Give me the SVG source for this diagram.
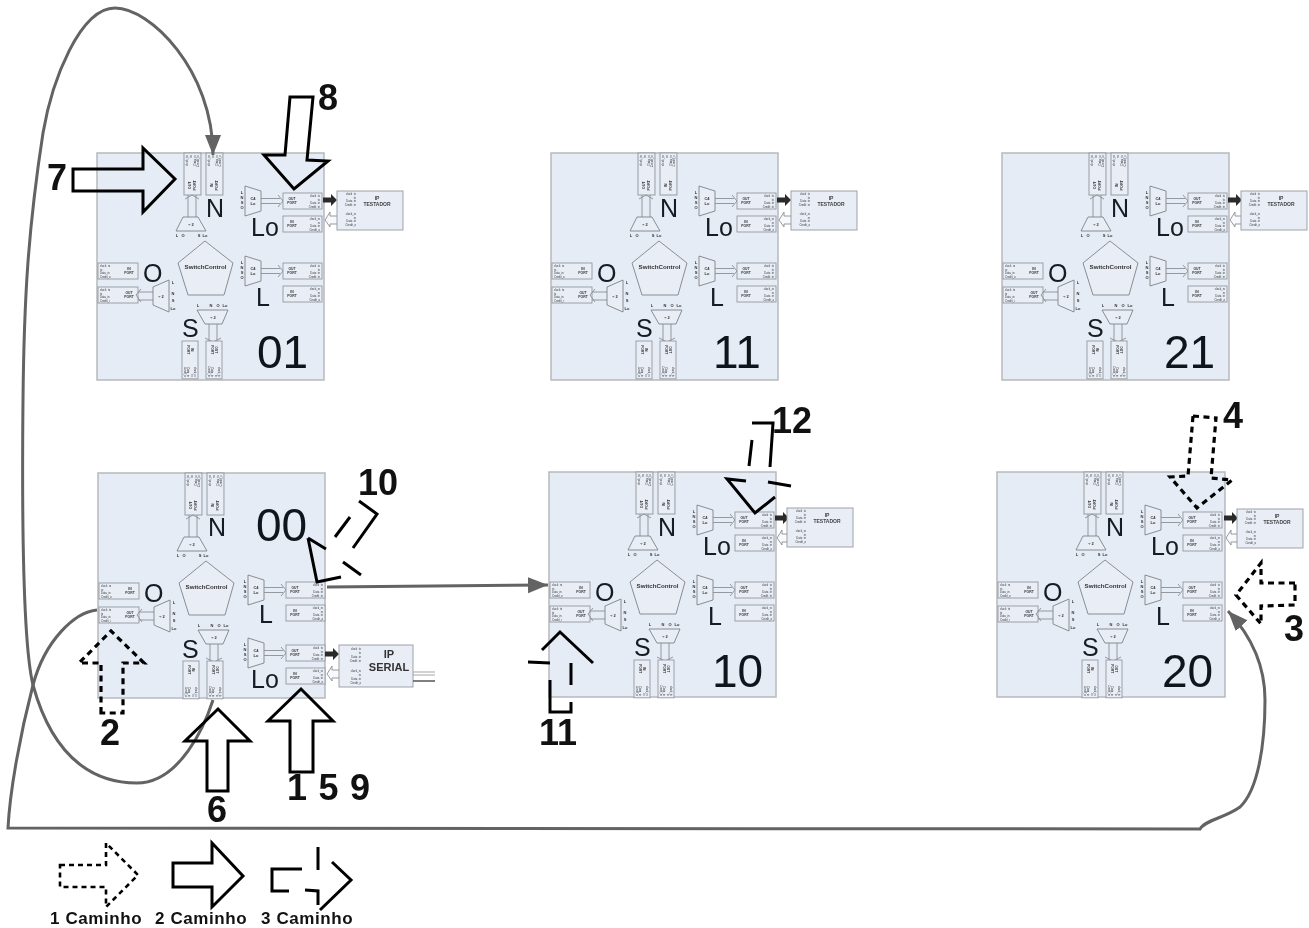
<svg xmlns="http://www.w3.org/2000/svg" width="1309" height="928" viewBox="0 0 1309 928">
<style>
.bg{fill:#fff}
.soft{filter:url(#soft)}
.tile{fill:#e5ecf6;stroke:#b6b9bc;stroke-width:1.5}
.box{fill:#e9eef6;stroke:#94999e;stroke-width:.9}
.mux{fill:#e9eef6;stroke:#7d8288;stroke-width:.9}
.pent{fill:#e9eef6;stroke:#8a8e93;stroke-width:1}
.lnk{fill:none;stroke:#8b8f94;stroke-width:.9}
text{font-family:"Liberation Sans",Arial,sans-serif}
.t3{font-size:2.8px;fill:#333;text-anchor:end}
.t3l{font-size:2.8px;fill:#333}
.pn{font-size:3.4px;font-weight:700;fill:#333;text-anchor:middle}
.sw{font-size:6.2px;font-weight:700;fill:#333;text-anchor:middle}
.mt{font-size:4px;font-weight:700;fill:#333;text-anchor:middle}
.lb{font-size:25px;fill:#151a20}
.num{font-size:46px;fill:#11151a}
.ipt{font-size:5px;font-weight:700;fill:#444;text-anchor:middle}
.ips{font-size:11px;font-weight:700;fill:#333;text-anchor:middle}
.big{font-size:36px;font-weight:700;fill:#111}
.leg{font-size:17px;font-weight:700;fill:#111;letter-spacing:.6px}
.wire{fill:none;stroke:#636363;stroke-width:3}
.wa{fill:none;stroke:#636363;stroke-width:3;marker-end:url(#tip)}
.s{fill:none;stroke:#000;stroke-width:3;stroke-linejoin:miter}
.d{fill:none;stroke:#000;stroke-width:3.2;stroke-dasharray:6 4.5}
.d2{fill:none;stroke:#000;stroke-width:2.6;stroke-dasharray:5 4}
</style>
<defs>
<filter id="soft" x="-5%" y="-5%" width="110%" height="110%"><feGaussianBlur stdDeviation="0.45"/></filter>
<marker id="tip" markerUnits="userSpaceOnUse" markerWidth="22" markerHeight="18" refX="20" refY="9" orient="auto"><path d="M0,1 L20,9 L0,17 Z" fill="#636363"/></marker>
<g id="port-out">
<rect class="box" width="39" height="16"/>
<text class="pn" x="9" y="7">OUT</text><text class="pn" x="9" y="11">PORT</text>
<text class="t3" x="37" y="4">clock_tx</text><text class="t3" x="37" y="7.5">tx</text><text class="t3" x="37" y="11">Data_in</text><text class="t3" x="37" y="14.5">Credit_in</text>
</g>
<g id="port-in">
<rect class="box" width="39" height="16"/>
<text class="pn" x="9" y="7">IN</text><text class="pn" x="9" y="11">PORT</text>
<text class="t3" x="37" y="4">clock_rx</text><text class="t3" x="37" y="7.5">rx</text><text class="t3" x="37" y="11">Data_in</text><text class="t3" x="37" y="14.5">Credit_o</text>
</g>
<g id="west-in">
<rect class="box" width="40" height="16"/>
<text class="pn" x="31" y="7">IN</text><text class="pn" x="31" y="11">PORT</text>
<text class="t3l" x="2" y="4">clock_rx</text><text class="t3l" x="2" y="7.5">rx</text><text class="t3l" x="2" y="11">Data_in</text><text class="t3l" x="2" y="14.5">Credit_o</text>
</g>
<g id="west-out">
<rect class="box" width="40" height="16"/>
<text class="pn" x="31" y="7">OUT</text><text class="pn" x="31" y="11">PORT</text>
<text class="t3l" x="2" y="4">clock_tx</text><text class="t3l" x="2" y="7.5">tx</text><text class="t3l" x="2" y="11">Data_in</text><text class="t3l" x="2" y="14.5">Credit_i</text>
</g>
<g id="east-block">
<path class="mux" d="M0,0 L16,5 L16,25 L0,30 Z"/>
<text class="mt" x="8" y="14">C4</text><text class="mt" x="8" y="19">Lo</text>
<text class="mt" x="-3" y="8">L</text><text class="mt" x="-3" y="13">N</text><text class="mt" x="-3" y="18">S</text><text class="mt" x="-3" y="23">O</text>
<path class="lnk" d="M16,12.5 H35 M16,17.5 H35 M33,9 L38,15 L33,21"/>
<use href="#port-out" x="38" y="7"/>
<use href="#port-in" x="38" y="30"/>
</g>
<g id="core">
<path class="pent" d="M108,88 L136,110 L127,142 L91,142 L81,110 Z"/>
<text class="sw" x="108.500" y="116">SwitchControl</text>
<use href="#port-out" transform="translate(87,42) rotate(-90) scale(1.077,1.06)"/>
<use href="#port-in" transform="translate(109,42) rotate(-90) scale(1.077,1.06)"/>
<path class="lnk" d="M91,42 V64 M99,42 V64 M88,46 L95,42 L102,46"/>
<path class="mux" d="M86,64 L101,64 L109,78 L79,78 Z"/>
<text class="mt" x="94" y="73">÷ 2</text>
<text class="mt" x="80" y="84">L</text><text class="mt" x="86" y="84">O</text><text class="mt" x="102" y="84">S</text><text class="mt" x="108" y="84">Lo</text>
<use href="#west-in" x="1" y="110"/>
<use href="#west-out" x="1" y="134"/>
<path class="lnk" d="M41,139 H57 M41,147 H57 M44,136 L39,142 L44,149"/>
<path class="mux" d="M56,134 L72,127 L72,159 L56,152 Z"/>
<text class="mt" x="64" y="145">÷ 2</text>
<text class="mt" x="76" y="131">L</text><text class="mt" x="76" y="142">N</text><text class="mt" x="76" y="149">S</text><text class="mt" x="76" y="157">Lo</text>
<path class="mux" d="M100,157 L131,157 L125,171 L108,171 Z"/>
<text class="mt" x="116" y="166">÷ 2</text>
<text class="mt" x="101" y="154">L</text><text class="mt" x="114" y="154">N</text><text class="mt" x="121" y="154">O</text><text class="mt" x="128" y="154">Lo</text>
<path class="lnk" d="M112,171 V189 M120,171 V189 M108,185 L116,189 L124,185"/>
<use href="#port-in" transform="translate(101,188) rotate(90) scale(.97,1)"/>
<use href="#port-out" transform="translate(125,188) rotate(90) scale(.97,1)"/>
</g>
<g id="links-right">
<path d="M0,6.500 H8 V3 L14,9 L8,15 V11.500 H0 Z" fill="#2c2c2c"/>
<path d="M14,25 H7 V21 L2,29 L7,36 V33 H14" fill="#f7f9fc" stroke="#8b8f94" stroke-width=".9"/>
</g>
<g id="ip-testador">
<rect class="box" width="66" height="39"/>
<text class="ipt" x="40" y="9">IP</text><text class="ipt" x="40" y="15">TESTADOR</text>
<text class="t3" x="19" y="4">clock_tx</text><text class="t3" x="19" y="7.500">tx</text><text class="t3" x="19" y="11">Data_in</text><text class="t3" x="19" y="14.500">Credit_in</text>
<text class="t3" x="19" y="24">clock_rx</text><text class="t3" x="19" y="27.500">rx</text><text class="t3" x="19" y="31">Data_in</text><text class="t3" x="19" y="34.500">Credit_o</text>
</g>
</defs>
<rect class="bg" width="1309" height="928"/>

<g id="tile-01" class="soft" transform="translate(97,153)">
<rect class="tile" width="227" height="227"/><use href="#core"/>
<use href="#east-block" x="148" y="33"/><use href="#east-block" x="148" y="103"/>
<use href="#links-right" x="226" y="38"/><use href="#ip-testador" x="240" y="38"/>
<text class="lb" x="109" y="64">N</text><text class="lb" x="154" y="83">Lo</text><text class="lb" x="46" y="129">O</text><text class="lb" x="159" y="153">L</text><text class="lb" x="85" y="184">S</text><text class="num" x="160" y="215">01</text>
</g>
<g id="tile-11" class="soft" transform="translate(551,153)">
<rect class="tile" width="227" height="227"/><use href="#core"/>
<use href="#east-block" x="148" y="33"/><use href="#east-block" x="148" y="103"/>
<use href="#links-right" x="226" y="38"/><use href="#ip-testador" x="240" y="38"/>
<text class="lb" x="109" y="64">N</text><text class="lb" x="154" y="83">Lo</text><text class="lb" x="46" y="129">O</text><text class="lb" x="159" y="153">L</text><text class="lb" x="85" y="184">S</text><text class="num" x="162" y="215">11</text>
</g>
<g id="tile-21" class="soft" transform="translate(1002,153)">
<rect class="tile" width="227" height="227"/><use href="#core"/>
<use href="#east-block" x="148" y="33"/><use href="#east-block" x="148" y="103"/>
<use href="#links-right" x="226" y="38"/><use href="#ip-testador" x="239" y="38"/>
<text class="lb" x="109" y="64">N</text><text class="lb" x="154" y="83">Lo</text><text class="lb" x="46" y="129">O</text><text class="lb" x="159" y="153">L</text><text class="lb" x="85" y="184">S</text><text class="num" x="162" y="215">21</text>
</g>
<g id="tile-00" class="soft" transform="translate(98,473)">
<rect class="tile" width="227" height="225"/><use href="#core"/>
<use href="#east-block" x="150" y="102"/><use href="#east-block" x="150" y="165"/>
<use href="#links-right" x="227" y="172"/>
<g transform="translate(241,172)"><rect class="box" width="74" height="42"/>
<text class="t3" x="22" y="5">clock_tx</text><text class="t3" x="22" y="9">tx</text><text class="t3" x="22" y="13">Data_in</text><text class="t3" x="22" y="17">Credit_in</text>
<text class="t3" x="22" y="27">clock_rx</text><text class="t3" x="22" y="31">rx</text><text class="t3" x="22" y="35">Data_in</text><text class="t3" x="22" y="39">Credit_o</text>
<text class="ips" x="50" y="13">IP</text><text class="ips" x="50" y="26">SERIAL</text></g>
<path d="M315,199 H337 M315,202 H337" stroke="#a5a5a5" stroke-width="1" fill="none"/><path d="M315,208 H337" stroke="#555" stroke-width="1.500" fill="none"/>
<text class="lb" x="110" y="63">N</text><text class="lb" x="153" y="215">Lo</text><text class="lb" x="46" y="129">O</text><text class="lb" x="161" y="150">L</text><text class="lb" x="84" y="185">S</text><text class="num" x="158" y="68">00</text>
</g>
<g id="tile-10" class="soft" transform="translate(549,472)">
<rect class="tile" width="227" height="225"/><use href="#core"/>
<use href="#east-block" x="148" y="33"/><use href="#east-block" x="148" y="103"/>
<use href="#links-right" x="226" y="37"/><use href="#ip-testador" x="238" y="36"/>
<text class="lb" x="109" y="64">N</text><text class="lb" x="154" y="83">Lo</text><text class="lb" x="46" y="129">O</text><text class="lb" x="159" y="153">L</text><text class="lb" x="85" y="184">S</text><text class="num" x="163" y="215">10</text>
</g>
<g id="tile-20" class="soft" transform="translate(997,472)">
<rect class="tile" width="228" height="225"/><use href="#core"/>
<use href="#east-block" x="148" y="33"/><use href="#east-block" x="148" y="103"/>
<use href="#links-right" x="227" y="37"/><use href="#ip-testador" x="240" y="37"/>
<text class="lb" x="109" y="64">N</text><text class="lb" x="154" y="83">Lo</text><text class="lb" x="46" y="129">O</text><text class="lb" x="159" y="153">L</text><text class="lb" x="85" y="184">S</text><text class="num" x="165" y="215">20</text>
</g>

<g id="connectors">
<path class="wa" d="M213,700 C205,725 180,783 137,783 C100,783 55,765 33,685 C22,640 22,500 23,400 C24,300 28,230 43,133 C52,80 80,8 115,8 C150,8 213,70 213,155"/>
<path class="wa" d="M97,610 C75,612 45,640 33,685 C20,735 10,790 8,828 L1200,829 C1205,820 1225,818 1240,807 C1258,790 1265,745 1265,700 C1265,670 1255,640 1228,611"/>
<path class="wa" d="M327,587 L548,585"/>
</g>

<g id="path-arrows">
<path class="s" d="M73,169 H143 V148 L175,179 L143,212 V191 H73 Z"/>
<path class="s" d="M290,97 H313 L307,160 L328,161 L294,189 L264,155 L285,155 Z"/>
<path class="s" d="M207,791 V741 H185 L218,709 L250,741 H228 V791 Z"/>
<path class="s" d="M290,772 V721 H268 L301,689 L333,721 H313 V772 Z"/>
<path class="d" d="M101,713 V663 H79 L111,631 L144,663 H123 V713 Z"/>
<path class="d" d="M1193,416 L1216,418 L1211,478 L1232,480 L1197,508 L1170,477 L1188,476 Z"/>
<path class="d" d="M1295,583 H1261 V563 L1236,595 L1261,624 V606 L1295,605 Z"/>
<path class="s" d="M308,538 L326,549 M308,538 L317,582 L341,577 M343,562 L361,575 M335,537 L350,517 M353,548 L377,514 L359,501"/>
<path class="s" d="M542,650 L560,632 L593,663 M528,662 L550,663 M571,663 V685 M550,680 V712 H571 V702"/>
<path class="s" d="M749,466 L752,440 M752,423 H773 L770,467 M746,481 L727,479 L755,513 L775,497 M768,482 L791,486"/>
</g>
<g id="step-labels">
<text class="big" x="47" y="190">7</text>
<text class="big" x="318" y="110">8</text>
<text class="big" x="358" y="495">10</text>
<text class="big" x="772" y="433">12</text>
<text class="big" x="1223" y="428">4</text>
<text class="big" x="1284" y="641">3</text>
<text class="big" x="100" y="745">2</text>
<text class="big" x="207" y="822">6</text>
<text class="big" x="287" y="800" word-spacing="1.500">1 5 9</text>
<text class="big" x="539" y="745">11</text>
</g>
<g id="legend">
<path class="d2" d="M60,865 H106 V843 L138,875 L106,907 V887 H60 Z"/>
<path class="s" d="M173,863 H212 V843 L243,876 L212,907 V887 H173 Z"/>
<path class="s" d="M302,869 H272 V891 H289 M318,847 V870 M332,862 L351,880 L320,910 M305,890 L318,891 V905"/>
<text class="leg" x="50" y="924">1 Caminho</text>
<text class="leg" x="155" y="924">2 Caminho</text>
<text class="leg" x="261" y="924">3 Caminho</text>
</g>
</svg>
